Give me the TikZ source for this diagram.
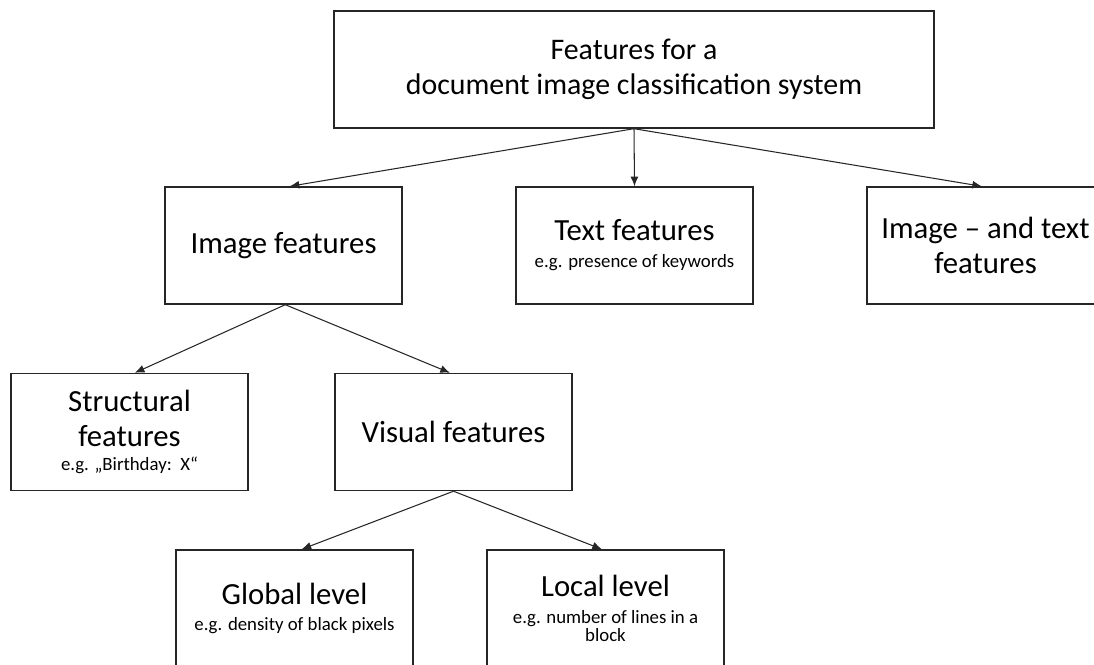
\documentclass[tikz,border=0pt]{standalone}
\usepackage{fontspec}
\setmainfont{Carlito}
\usepackage{tikz}
\usetikzlibrary{arrows.meta}

\newcommand{\egtext}[1]{{\fontsize{10.7}{12}\selectfont #1}}

\begin{document}
\begin{tikzpicture}[x=0.02cm,y=-0.02cm,
	box/.style={draw=black!85, line width=0.8pt, minimum width=4.74cm, minimum height=2.34cm,
		inner sep=0pt, align=center, font=\fontsize{17.5}{20}\selectfont},
	link/.style={-{Latex[length=5.5pt,width=4.5pt]}, line width=0.6pt, black!85}]
	\useasboundingbox (0,0) rectangle (1094,664);

	% top level
	\node[box, minimum width=12cm, font=\fontsize{17}{20}\selectfont] (sys) at (634,69.5) {Features for a\\document image classification system};

	% second level
	\node[box] (img) at (283.5,245.5) {Image features};
	\node[box] (txt) at (634.5,245.5) {Text features\\[-4.7pt]\egtext{e.g. presence of keywords}};
	\node[box] (imgtxt) at (985.5,245.5) {Image -- and text\\features};

	\draw[link] (sys.south) -- ([xshift=3.5pt]img.north);
	\draw[link] (sys.south) -- (txt.north);
	\draw[link] (sys.south) -- ([xshift=-2pt]imgtxt.north);

	% third level
	\node[box] (struct) at (129.5,432) {Structural\\features\\[-6pt]\egtext{e.g. „Birthday:\ \ X“}};
	\node[box] (vis) at (453.5,432) {Visual features};

	\draw[link] ([xshift=1pt]img.south) -- ([xshift=3pt]struct.north);
	\draw[link] ([xshift=1pt]img.south) -- ([xshift=-2pt]vis.north);

	% fourth level
	\node[box] (glob) at (294.5,608.5) {Global level\\[-5.3pt]\egtext{e.g. density of black pixels}};
	\node[box] (loc) at (605.5,608.5) {Local level\\[-5pt]\egtext{e.g. number of lines in a}\\[-9.5pt]\egtext{block}};

	\draw[link] (vis.south) -- ([xshift=4pt]glob.north);
	\draw[link] (vis.south) -- ([xshift=-2pt]loc.north);
\end{tikzpicture}
\end{document}
